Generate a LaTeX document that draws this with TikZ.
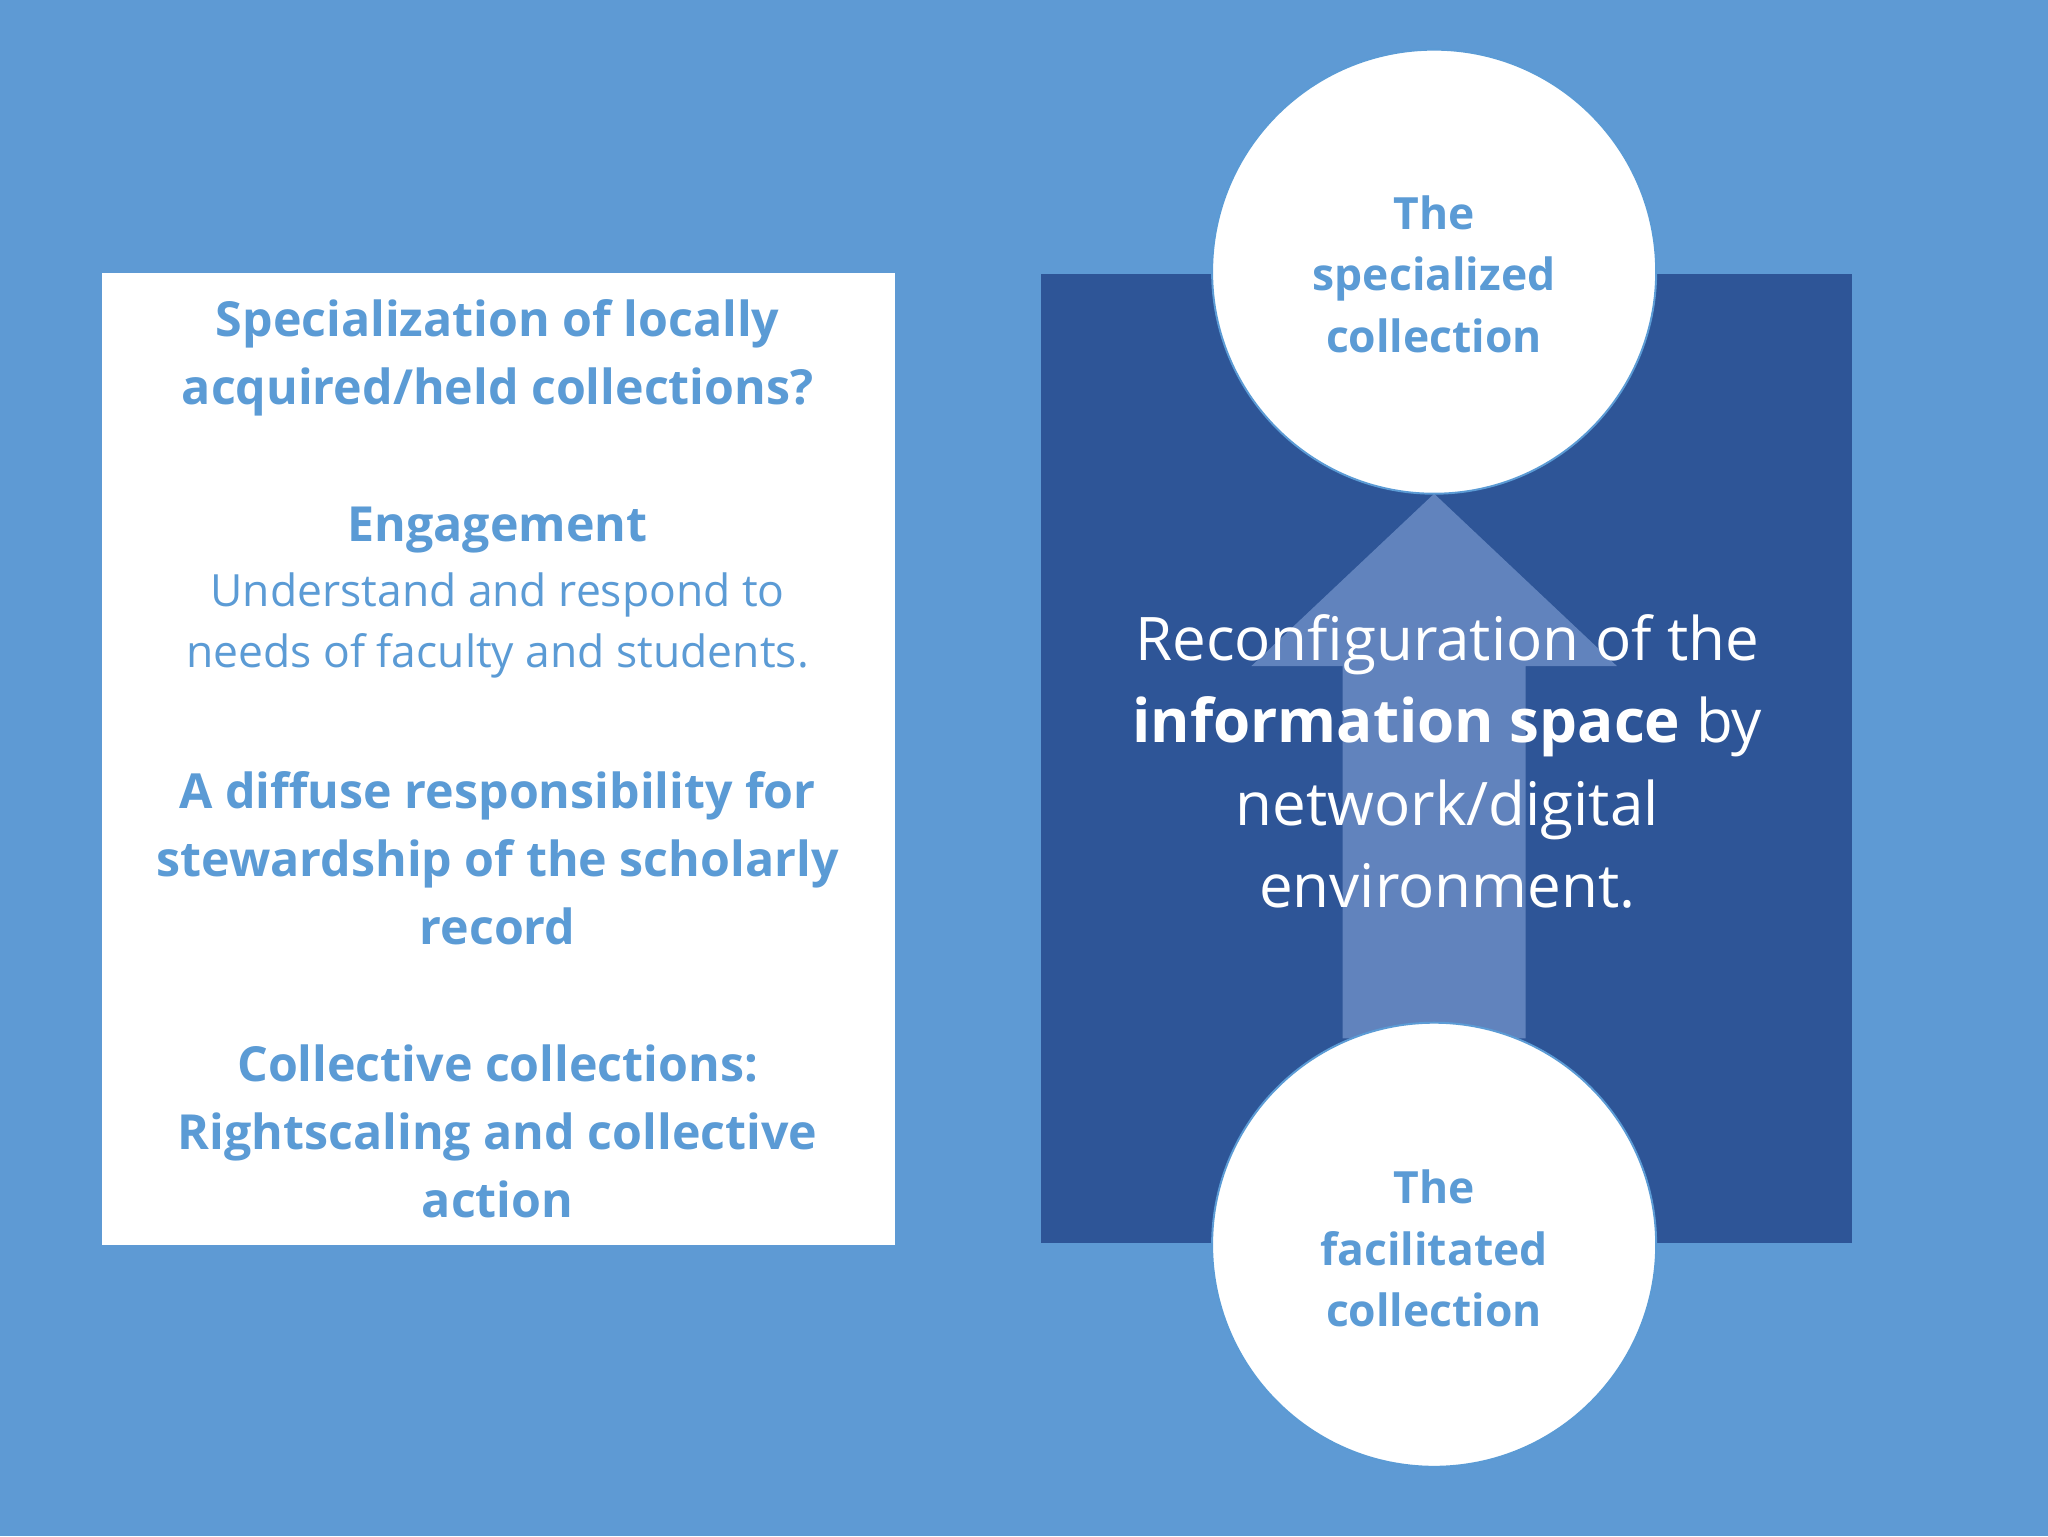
\documentclass[tikz,border=0pt]{standalone}
\usepackage{fontspec}
\setmainfont{Open Sans}
\definecolor{bg}{HTML}{5E9AD4}
\definecolor{dark}{HTML}{2E5597}
\definecolor{txt}{HTML}{5B9BD5}
\definecolor{arr}{HTML}{6A8CC4}
\begin{document}
\begin{tikzpicture}[x=1pt,y=-1pt,
  lt/.style={text=txt,align=center,font=\fontsize{37}{52}\selectfont\bfseries},
  ct/.style={text=txt,align=center,font=\fontsize{34}{47}\selectfont\bfseries},
  circ/.style={circle,fill=white,draw=txt,line width=1.5pt,minimum size=340pt,inner sep=0pt}]
\fill[bg] (0,0) rectangle (1568,1176);
\useasboundingbox (0,0) rectangle (1568,1176);
\fill[white] (78,209) rectangle (685,953);
\fill[dark] (797,210) rectangle (1418,952);
\fill[arr,opacity=0.85] (1028,795) -- (1028,510) -- (958,510) -- (1098,378) -- (1238,510) -- (1168,510) -- (1168,795) -- cycle;
\node[circ] (top) at (1098,208) {};
\node[circ] (bot) at (1098,953) {};
\node[ct] at (1098,210) {The\\specialized\\collection};
\node[ct] at (1098,956) {The\\facilitated\\collection};
\node[text=white,align=center,font=\fontsize{46}{63}\selectfont] (mid) at (1108,583) {Reconfiguration of the\\\textbf{information space} by\\network/digital\\environment.};
\node[lt] (a) at (381,274) {Specialization of locally\\acquired/held collections?};
\node[lt] (b) at (381,406) {Engagement};
\node[text=txt,align=center,font=\fontsize{34}{47}\selectfont] (c) at (381,479) {Understand and respond to\\needs of faculty and students.};
\node[lt] (d) at (381,657) {A diffuse responsibility for\\stewardship of the scholarly\\record};
\node[lt] (e) at (381,866) {Collective collections:\\Rightscaling and collective\\action};
\end{tikzpicture}
\end{document}
